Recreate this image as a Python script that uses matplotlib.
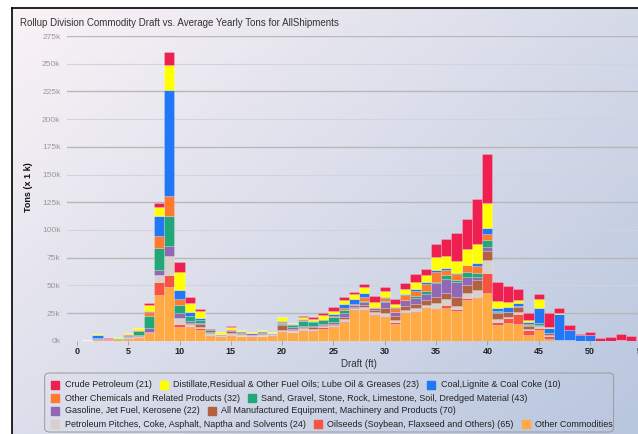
import numpy as np
import matplotlib.pyplot as plt
from matplotlib.patches import Rectangle, FancyBboxPatch
from matplotlib.lines import Line2D

plt.rcParams['font.family'] = ['Liberation Sans', 'DejaVu Sans']

# draft depth (ft), one bar per foot
drafts = list(range(1, 55))

# tons (x 1k) per commodity group
other_commodities = [0.8, 1.0, 0.8, 1.2, 1.5, 2.0, 7.0, 41.2, 48.7, 12.0,
                     12.0, 9.7, 4.5, 3.5, 4.5, 4.0, 3.5, 4.0, 4.5, 8.0,
                     7.5, 9.0, 9.0, 11.0, 12.6, 17.0, 27.7, 27.7, 23.2, 21.7,
                     15.5, 25.0, 26.2, 29.2, 28.3, 29.8, 27.0, 36.7, 38.3, 42.8,
                     14.2, 16.2, 15.0, 5.5, 9.7, 1.5, 0.4, 0.3, 0, 0,
                     0, 0, 0.5, 0]
oilseeds = [0, 0.5, 0.4, 0.3, 1.0, 1.5, 0.5, 12.1, 10.6, 3.0,
            1.5, 1.5, 0.8, 0.5, 1.0, 0.6, 0.4, 0.6, 0.5, 1.0,
            0.8, 1.0, 0.8, 1.0, 0.8, 1.0, 0.8, 1.0, 0.8, 0.5,
            1.0, 0.8, 1.0, 0.8, 1.5, 2.4, 2.0, 1.6, 1.5, 18.0,
            3.0, 4.5, 9.0, 4.0, 2.0, 3.0, 0.2, 0, 0, 0,
            0, 0, 0, 0]
petroleum_pitches = [0, 0, 0, 0, 0.5, 0.8, 0.3, 6.0, 17.1, 5.8,
                     1.7, 1.5, 1.5, 0.8, 1.5, 1.2, 0.8, 1.2, 0.8, 1.0,
                     1.0, 1.2, 1.0, 1.0, 0.8, 1.5, 0.8, 1.5, 1.5, 2.5,
                     2.0, 2.0, 2.5, 2.5, 4.5, 5.2, 2.5, 4.5, 6.0, 12.0,
                     2.5, 1.0, 1.5, 1.0, 1.5, 1.0, 0, 0, 0, 0,
                     0, 0, 0, 0]
manufactured = [0, 0.3, 0, 0.3, 0.7, 0.6, 0.3, 0, 0, 0,
                0.8, 2.0, 0.8, 0.8, 2.0, 1.5, 0.5, 1.5, 0.5, 4.5,
                1.5, 1.0, 1.2, 1.2, 1.2, 2.3, 1.0, 2.0, 2.0, 4.5,
                4.0, 3.5, 3.0, 4.0, 5.4, 5.4, 8.2, 7.5, 9.0, 8.2,
                5.0, 4.5, 5.0, 2.5, 0.5, 1.1, 0, 0, 0, 0,
                0, 0, 0, 0]
gasoline = [0, 0, 0, 0, 0.3, 0.5, 3.5, 4.5, 9.1, 3.9,
            1.5, 1.2, 0.5, 0.4, 0.5, 0.5, 1.5, 0.6, 0.3, 1.0,
            1.5, 1.5, 1.0, 1.0, 1.6, 3.5, 1.5, 3.0, 2.0, 6.0,
            3.0, 5.0, 6.0, 6.0, 12.1, 12.6, 13.6, 7.5, 2.5, 3.8,
            1.0, 0, 0.5, 0.5, 0.5, 0, 0, 0, 0, 0,
            0, 0, 0, 0]
sand_gravel = [0, 0.3, 0, 0.3, 1.2, 3.5, 11.0, 19.6, 27.3, 7.5,
               4.5, 2.5, 2.0, 0, 0.3, 1.2, 0, 1.3, 0.3, 0.8,
               1.5, 4.0, 3.5, 3.5, 4.8, 2.5, 0, 1.0, 0.3, 0.5,
               0.6, 0.5, 1.5, 2.0, 1.5, 3.9, 1.5, 4.5, 4.1, 6.1,
               0.8, 0, 0.3, 1.0, 1.5, 0, 0, 0, 0, 0,
               0, 0, 0, 0]
other_chemicals = [0, 0.4, 0, 0, 0.5, 0.6, 3.0, 11.4, 17.8, 5.2,
                   0.5, 0.5, 0, 0, 0.5, 0, 0, 0, 0, 0.5,
                   0.3, 0.8, 0.8, 0.5, 0.8, 2.0, 1.0, 3.0, 0.3, 3.0,
                   3.4, 4.5, 5.0, 6.5, 9.0, 4.5, 5.5, 6.0, 6.0, 5.4,
                   0.6, 0, 0.3, 0.5, 0, 0, 0, 0, 0, 0,
                   0, 0, 0, 0]
coal = [0, 2.5, 0, 0, 0.3, 0.4, 0.8, 17.7, 95.6, 8.4,
        3.5, 1.3, 0, 0, 0, 0, 0, 0, 0.5, 1.3,
        0.8, 1.3, 0.8, 0.8, 1.5, 3.0, 4.6, 3.6, 0, 1.0,
        0.6, 0.8, 1.5, 2.3, 1.5, 2.1, 0.5, 0, 2.4, 5.7,
        2.1, 4.5, 2.4, 1.5, 13.5, 5.1, 23.2, 9.4, 5.0, 5.1,
        0, 0, 0, 0]
distillate = [0, 0.6, 0, 1.2, 0.8, 1.5, 5.5, 8.5, 22.6, 16.5,
              8.0, 6.5, 0, 2.1, 2.5, 0.5, 1.4, 0.3, 0.7, 3.0,
              0.8, 1.5, 1.5, 3.2, 2.5, 4.0, 4.5, 5.9, 4.6, 5.5,
              3.0, 5.0, 6.6, 6.0, 11.5, 10.5, 11.4, 14.2, 17.2, 22.5,
              6.9, 4.5, 2.5, 2.2, 8.2, 0.9, 0.9, 0, 0.5, 0,
              0, 0, 0, 0]
crude = [0, 0.4, 0.8, 0.3, 0.4, 0.3, 1.8, 3.0, 11.5, 9.0,
         5.7, 1.6, 0.2, 0, 0.5, 0.2, 0, 0.2, 0, 0,
         0, 1.0, 1.5, 1.5, 3.5, 2.4, 2.3, 2.5, 5.9, 3.5,
         4.3, 5.3, 6.9, 5.4, 11.7, 15.6, 24.8, 27.3, 40.6, 44.0,
         17.2, 14.3, 10.0, 6.0, 4.7, 12.1, 4.5, 4.5, 0.5, 3.0,
         2.2, 3.0, 5.5, 4.2]

# legend order (top of the stack first)
series = [
    ('Crude Petroleum (21)', crude, '#EF1F50'),
    ('Distillate,Residual & Other Fuel Oils; Lube Oil & Greases (23)', distillate, '#FFFF00'),
    ('Coal,Lignite & Coal Coke (10)', coal, '#2277F6'),
    ('Other Chemicals and Related Products (32)', other_chemicals, '#FF7A2E'),
    ('Sand, Gravel, Stone, Rock, Limestone, Soil, Dredged Material (43)', sand_gravel, '#22A876'),
    ('Gasoline, Jet Fuel, Kerosene (22)', gasoline, '#9168B4'),
    ('All Manufactured Equipment, Machinery and Products (70)', manufactured, '#B2623F'),
    ('Petroleum Pitches, Coke, Asphalt, Naptha and Solvents (24)', petroleum_pitches, '#D8D1CB'),
    ('Oilseeds (Soybean, Flaxseed and Others) (65)', oilseeds, '#F75444'),
    ('Other Commodities', other_commodities, '#FFAA42'),
]
legend_rows = [[0, 1, 2], [3, 4], [5, 6], [7, 8, 9]]

W, H = 638, 434
fig = plt.figure(figsize=(W / 100, H / 100), dpi=100)

# background gradient inside the black frame
bg = fig.add_axes([12 / W, 0, 1 - 12 / W, (H - 8) / H], zorder=-10)
gx, gy = np.meshgrid(np.linspace(0, 1, 200), np.linspace(0, 1, 200))
t = np.clip(0.55 * gx + 0.45 * gy, 0, 1)[..., None]
c0 = np.array([250, 243, 246]) / 255
c1 = np.array([184, 198, 222]) / 255
bg.imshow(c0 * (1 - t) + c1 * t, aspect='auto', extent=[0, 1, 0, 1])
bg.axis('off')
fig.add_artist(Line2D([12 / W, 12 / W], [0, (H - 8) / H], color='black', lw=1.2))
fig.add_artist(Line2D([12 / W, 1], [(H - 8) / H, (H - 8) / H], color='black', lw=1.2))

ax = fig.add_axes([66.7 / W, (H - 340.7) / H, 584.8 / W, 304.7 / H])
ax.patch.set_alpha(0)

bottom = np.zeros(len(drafts))
for name, vals, color in reversed(series):
    ax.bar(drafts, vals, width=1.0, bottom=bottom, color=color,
           edgecolor=(1, 1, 1, 0.35), linewidth=0.4, zorder=3)
    bottom += np.array(vals)

ax.set_xlim(-1, 56)
ax.set_ylim(0, 275)
yt = list(range(0, 276, 25))
ax.set_yticks(yt)
ax.set_yticklabels([f'{v}k' for v in yt])
for v in yt[1:]:
    dark = (v // 25) % 2 == 1
    ax.axhline(v, color='#b8b8b8' if dark else '#d0d4dc', lw=1.0 if dark else 0.8, zorder=1)
ax.set_xticks(range(0, 56, 5))
ax.tick_params(axis='y', length=0, pad=4.5, labelsize=6, labelcolor='#999999')
ax.tick_params(axis='x', length=3, width=0.6, color='#999999', pad=1.5,
               labelsize=6.5, labelcolor='#222222')
for lab in ax.get_xticklabels():
    lab.set_fontweight('bold')
for s in ax.spines.values():
    s.set_visible(False)

ax.set_xlabel('Draft (ft)', fontsize=7, color='#333333', labelpad=2)
fig.text(28.3 / W, 1 - 186.7 / H, 'Tons (x 1 k)', rotation=90, ha='center', va='center',
         fontsize=6.5, fontweight='bold', color='#111111')
fig.text(20.5 / W, 1 - 23 / H,
         'Rollup Division Commodity Draft vs. Average Yearly Tons for AllShipments',
         ha='left', va='center', fontsize=7, color='#333333')

# legend box drawn in flow layout like the original
fig.add_artist(FancyBboxPatch((44.7 / W, (H - 432) / H), (613.6 - 44.7) / W, 59 / H,
                              boxstyle='round,pad=0,rounding_size=0.008',
                              transform=fig.transFigure, facecolor='none',
                              edgecolor='#9a9a9a', lw=0.7))
fig.canvas.draw()
renderer = fig.canvas.get_renderer()
row_ys = [384.7, 398.3, 410.9, 424.3]
for ri, row in enumerate(legend_rows):
    x = 51.3
    y = H - row_ys[ri]
    for idx in row:
        name, vals, color = series[idx]
        fig.add_artist(Rectangle((x / W, (y - 4) / H), 8 / W, 8 / H,
                                 transform=fig.transFigure, color=color))
        txt = fig.text((x + 13.5) / W, y / H, name, ha='left', va='center',
                       fontsize=6.5, color='#222222')
        w = txt.get_window_extent(renderer).width
        x = x + 13.5 + w + 8

fig.savefig('out.png', dpi=100)
